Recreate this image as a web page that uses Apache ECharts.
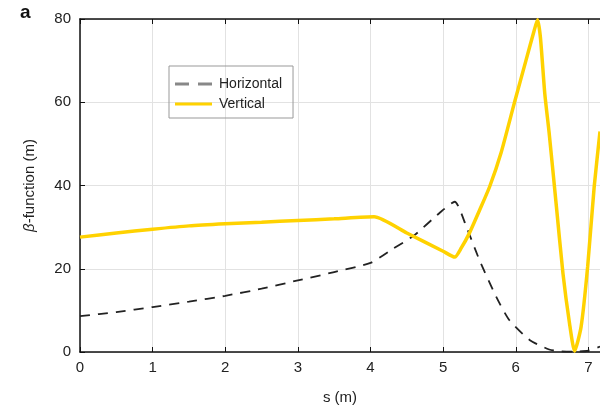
<!DOCTYPE html>
<html>
<head>
<meta charset="utf-8">
<script src="https://cdn.jsdelivr.net/npm/echarts@6/dist/echarts.min.js"></script>
<style>
  html, body { margin: 0; padding: 0; background: #fff; }
  #chart { width: 600px; height: 411px; }
</style>
</head>
<body>
<div id="chart"></div>
<script>
// s (m) positions and beta values
var sHor = [0, 0.5, 1, 1.5, 2, 2.5, 3, 3.5, 4, 4.3, 4.6, 4.95, 5.16, 5.32, 5.5, 5.73, 5.91, 6.19, 6.46, 6.6, 6.8, 7.0, 7.16];
var betaHor = [8.6, 9.6, 10.8, 12.1, 13.5, 15.2, 17.2, 19.2, 21.4, 24.7, 28.0, 33.4, 36.1, 30.1, 22.1, 13.3, 7.7, 2.9, 0.6, 0.2, 0.1, 0.3, 1.3];

var sVer = [0, 0.5, 1, 1.5, 2, 2.5, 3, 3.5, 4.05, 4.5, 5.0, 5.16, 5.25, 5.36, 5.5, 5.64, 5.8, 5.98, 6.14, 6.25, 6.30, 6.34, 6.40, 6.46, 6.56, 6.65, 6.74, 6.81, 6.90, 6.99, 7.08, 7.16];
var betaVer = [27.6, 28.6, 29.5, 30.3, 30.8, 31.2, 31.6, 32.0, 32.5, 28.6, 24.2, 22.8, 25.0, 28.5, 34.0, 39.7, 48.0, 59.8, 70.0, 77.0, 79.8, 75.5, 62.0, 52.6, 34.9, 18.9, 6.9, 0.2, 6.1, 20.5, 39.7, 53.0];

var xTicks = [0, 1, 2, 3, 4, 5, 6, 7];
var yTicks = [0, 20, 40, 60, 80];

function pairs(xs, ys) {
    var out = [];
    for (let i = 0; i < xs.length; i++) out.push([xs[i], ys[i]]);
    return out;
}

var myChart = echarts.init(document.getElementById('chart'));
var font = 'Liberation Sans, Arial, sans-serif';

var option = {
    animation: false,
    textStyle: { fontFamily: font },
    grid: { left: 80, top: 19, right: 0, bottom: 59 },
    graphic: [{
        type: 'text', left: 20, top: 3,
        style: { text: 'a', font: 'bold 19px ' + font, fill: '#111' }
    }],
    legend: {
        left: 169, top: 66,
        orient: 'vertical',
        itemWidth: 37, itemHeight: 3.5, itemGap: 6,
        padding: [11, 11, 7, 6],
        borderColor: '#999', borderWidth: 1,
        textStyle: { fontSize: 14, color: '#222', fontFamily: font, padding: [0, 0, 0, 2] },
        data: [
            { name: 'Horizontal', icon: 'path://M0,0h14v3h-14z M23,0h14v3h-14z', itemStyle: { color: '#888' } },
            { name: 'Vertical', icon: 'path://M0,0h37v3h-37z', itemStyle: { color: '#ffd200' } }
        ]
    },
    xAxis: [{
        type: 'value', min: 0, max: 7.16, interval: 1,
        name: 's (m)', nameLocation: 'middle', nameGap: 38,
        nameTextStyle: { fontSize: 15, color: '#222' },
        axisLine: { lineStyle: { color: '#111', width: 1.5 } },
        axisTick: { inside: true, length: 5, lineStyle: { color: '#111' } },
        axisLabel: { fontSize: 15, color: '#222', margin: 8, showMaxLabel: false,
            formatter: function (v) { return xTicks.indexOf(v) >= 0 ? String(v) : ''; } },
        splitLine: { show: true, lineStyle: { color: '#e2e2e2', width: 1 } }
    }, {
        type: 'value', position: 'top', min: 0, max: 7.16, interval: 1,
        axisLine: { show: true, lineStyle: { color: '#111', width: 1.5 } },
        axisTick: { show: true, inside: true, length: 5, lineStyle: { color: '#111' } },
        axisLabel: { show: false },
        splitLine: { show: false }
    }],
    yAxis: {
        type: 'value', min: 0, max: 80, interval: 20,
        name: '{i|β}-function (m)', nameLocation: 'middle', nameGap: 43, nameRotate: 90,
        nameTextStyle: { fontSize: 15, color: '#222',
            rich: { i: { fontStyle: 'italic', fontSize: 15, color: '#222' } } },
        axisLine: { show: true, lineStyle: { color: '#111', width: 1.5 } },
        axisTick: { show: true, inside: true, length: 5, lineStyle: { color: '#111' } },
        axisLabel: { fontSize: 15, color: '#222', margin: 9,
            formatter: function (v) { return yTicks.indexOf(v) >= 0 ? String(v) : ''; } },
        splitLine: { show: true, lineStyle: { color: '#e2e2e2', width: 1 } }
    },
    series: [{
        name: 'Horizontal', type: 'line', data: pairs(sHor, betaHor),
        smooth: 0.2, symbol: 'none',
        lineStyle: { color: '#222', width: 1.8, type: [10, 8] },
        itemStyle: { color: '#888' }
    }, {
        name: 'Vertical', type: 'line', data: pairs(sVer, betaVer),
        smooth: 0.2, symbol: 'none',
        lineStyle: { color: '#ffd200', width: 3.5 },
        itemStyle: { color: '#ffd200' }
    }]
};

myChart.setOption(option);
</script>
</body>
</html>
